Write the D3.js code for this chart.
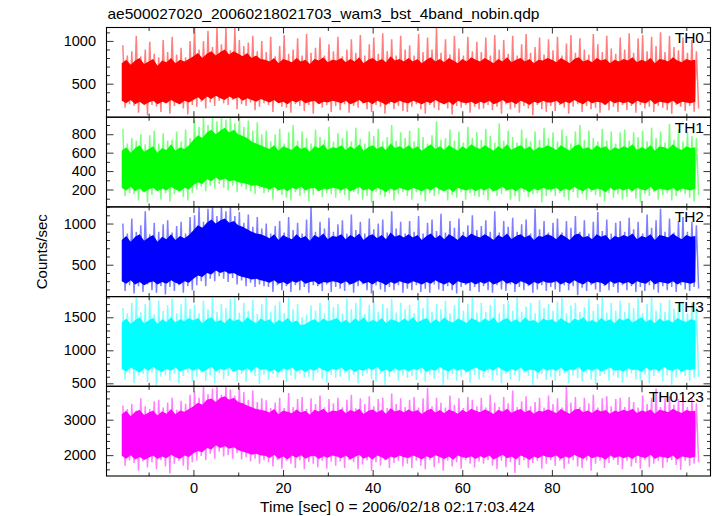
<!DOCTYPE html>
<html><head><meta charset="utf-8">
<script src="https://cdn.jsdelivr.net/npm/d3@7"></script>
<style>
body{margin:0;background:#fff}
svg{display:block}
text{font-family:"Liberation Sans",Arial,Helvetica,sans-serif;fill:#000}
</style>
</head><body>
<svg id="c" width="717" height="516"></svg>
<script>
// ---------------- data ----------------
const titleText = "ae500027020_20060218021703_wam3_bst_4band_nobin.qdp";
const xTitle = "Time [sec] 0 = 2006/02/18 02:17:03.424";
const yTitle = "Counts/sec";
const bandNames = ["TH0","TH1","TH2","TH3","TH0123"];
const bandColors = ["#ff0000","#00ff00","#0000ff","#00ffff","#ff00ff"];
const xDomain = [-19.4, 115.4];
const yDomains = [[108,1157],[11,985],[113,1202],[455,1813],[1412,3941]];
const yMajorTicks = [[500,1000],[200,400,600,800],[500,1000],[500,1000,1500],[2000,3000]];
const yMinorStep = [100,100,100,100,200];
const xMajorTicks = [0,20,40,60,80,100];
const xMinorTicks = [-10,10,30,50,70,90,110];

// one value per 1-s bin, first bin at t = -16 s
const binStart = -16;

// ---- TH0 ----
const th0CoreHi = [740,780,720,770,800,730,760,790,710,770,750,800,740,780,760,790,
 820,860,800,850,880,830,870,900,840,880,850,820,860,800,830,790,
 780,760,800,740,790,770,750,800,760,780,730,790,770,810,750,780,
 770,800,750,790,760,810,740,780,800,760,790,750,820,770,790,760,
 800,760,790,740,780,810,760,790,750,800,770,740,790,760,810,780,
 760,800,770,740,790,760,810,750,780,800,760,790,740,780,770,800,
 780,750,800,770,740,790,810,760,780,750,800,770,790,740,780,760,
 790,770,810,750,780,760,800,740,790,780,760,810,770,750,790,770,780];
const th0CoreLo = [300,270,310,260,290,250,280,300,260,290,270,310,280,260,300,280,
 310,340,300,350,320,360,330,310,350,320,340,300,330,310,290,320,
 300,280,310,270,290,260,300,280,310,270,290,300,260,290,280,300,
 290,270,300,260,280,310,270,290,260,300,280,250,290,270,300,280,
 270,300,280,260,290,270,310,280,260,290,250,300,280,270,290,260,
 290,270,300,260,280,310,270,290,260,300,280,250,290,270,300,280,
 280,300,260,290,270,310,280,260,300,270,290,280,250,300,270,290,
 270,290,260,300,280,270,310,260,290,280,270,300,260,290,280,270,290];
const th0Hi = [950,830,880,1060,820,900,990,850,810,1010,870,1050,840,920,810,1000,
 1150,900,1000,1120,930,1150,960,1150,890,1150,1010,940,980,1060,880,1000,
 870,1050,820,940,1070,850,900,1030,830,1080,860,920,1040,830,960,880,
 1050,820,900,1020,860,1070,830,960,1040,850,1090,880,1020,830,1060,900,
 950,830,1080,870,1040,900,1150,860,1020,840,1060,910,830,1050,880,990,
 870,1040,830,1070,900,1010,850,1060,830,960,1080,860,930,1040,840,1020,
 890,1050,830,970,1070,860,1030,900,840,1080,960,870,1060,910,850,1040,
 900,1090,860,1030,1070,880,1050,940,1100,870,1060,930,890,1040,860,1010,880];
const th0Lo = [220,260,240,160,280,130,250,230,170,270,150,240,260,210,140,250,
 230,290,210,280,240,300,270,250,310,200,260,240,280,190,230,270,
 250,170,280,230,220,160,260,240,180,250,150,270,220,250,170,240,
 190,260,160,240,220,270,200,170,250,230,150,260,200,240,180,170,
 230,260,200,150,250,220,190,260,210,140,240,220,250,160,230,200,
 210,250,190,230,150,260,200,220,160,240,210,130,250,200,170,240,
 180,250,220,150,230,260,170,240,200,220,160,250,190,230,170,250,
 190,240,160,250,210,230,170,240,220,190,150,250,230,180,240,170,210];

// ---- TH1 ----
const th1CoreHi = [620,660,600,650,680,610,640,670,600,650,630,690,620,660,640,680,
 740,790,760,820,850,800,840,870,820,850,800,780,760,720,700,680,
 660,640,680,620,670,650,630,680,640,660,610,670,650,690,630,660,
 650,680,630,670,640,690,620,660,680,640,670,630,700,650,670,640,
 680,640,670,620,660,690,640,670,630,680,650,620,670,640,690,660,
 640,680,650,620,670,640,690,630,660,680,640,670,620,660,650,680,
 660,630,680,650,620,670,690,640,660,630,680,650,670,620,660,640,
 670,650,690,630,660,640,680,620,670,660,640,690,650,630,670,650,660];
const th1CoreLo = [220,190,230,180,210,170,200,220,180,210,190,230,200,180,220,200,
 250,280,260,310,290,330,300,320,290,300,280,270,260,240,250,230,
 220,200,230,190,210,180,220,200,230,190,210,220,180,210,200,220,
 210,190,220,180,200,230,190,210,180,220,200,170,210,190,220,200,
 190,220,200,180,210,190,230,200,180,210,170,220,200,190,210,180,
 210,190,220,180,200,230,190,210,180,220,200,170,210,190,220,200,
 200,220,180,210,190,230,200,180,220,190,210,200,170,220,190,210,
 190,210,180,220,200,190,230,180,210,200,190,220,180,210,200,190,210];
const th1Hi = [860,700,760,730,800,690,790,840,700,810,730,740,830,720,850,760,
 960,880,985,900,985,940,985,960,985,920,985,880,950,840,930,800,
 840,720,800,860,700,820,900,730,830,760,700,850,770,740,880,720,
 810,760,840,720,870,750,700,830,780,860,720,770,900,730,820,760,
 840,720,870,770,700,790,940,740,760,850,730,830,710,880,760,820,
 740,860,780,710,920,730,840,770,710,850,760,720,830,740,870,760,
 820,720,850,780,700,830,900,740,840,760,720,860,730,830,700,820,
 850,730,820,770,840,720,870,760,830,710,910,740,850,720,820,780,760];
const th1Lo = [130,160,150,80,170,60,140,190,90,160,70,150,170,120,80,160,
 200,230,180,240,210,260,220,190,240,170,230,200,180,150,210,160,
 170,90,180,140,110,80,170,130,160,70,140,180,120,160,150,110,
 160,140,80,170,150,90,130,60,170,140,120,160,80,150,170,130,
 90,170,140,70,160,130,150,180,80,140,110,170,90,160,130,120,
 140,80,170,130,150,180,90,130,70,170,120,150,160,60,130,170,
 130,160,120,80,170,110,150,90,170,140,120,70,160,110,150,90,
 120,170,100,60,150,130,170,90,140,160,80,130,170,150,110,70,140];

// ---- TH2 ----
const th2CoreHi = [800,850,780,840,870,790,830,860,780,840,810,870,800,850,820,860,
 920,980,950,1010,1050,1000,1040,1060,1010,1030,980,960,930,900,880,870,
 850,820,870,800,860,830,810,870,820,850,790,860,830,880,810,850,
 840,870,810,860,830,880,800,850,870,820,860,810,890,840,860,830,
 870,830,860,800,850,880,820,860,810,870,840,800,860,830,880,850,
 830,870,840,800,860,830,880,810,850,870,830,860,800,850,840,870,
 850,810,870,840,800,860,880,830,850,810,870,840,860,800,850,830,
 860,840,880,810,850,830,870,800,860,850,830,880,840,810,860,840,850];
const th2CoreLo = [300,270,310,260,290,250,280,300,260,290,270,310,280,260,300,280,
 330,370,350,400,380,430,400,420,390,400,370,350,340,320,330,310,
 300,280,310,270,290,260,300,280,310,270,290,300,260,290,280,300,
 290,270,300,260,280,310,270,290,260,300,280,250,290,270,300,280,
 270,300,280,260,290,270,310,280,260,290,250,300,280,270,290,260,
 290,270,300,260,280,310,270,290,260,300,280,250,290,270,300,280,
 280,300,260,290,270,310,280,260,300,270,290,280,250,300,270,290,
 270,290,260,300,280,270,310,260,290,280,270,300,260,290,280,270,290];
const th2Hi = [1000,880,1060,900,980,1150,870,1010,900,990,1040,890,970,1020,880,1080,
 1100,1202,1020,1180,1202,1090,1202,1150,1202,1090,1140,1010,1110,960,1080,940,
 1000,880,970,1030,890,1080,920,1010,880,1050,1202,900,1020,940,1070,900,
 990,1040,880,1110,920,1020,880,1060,930,1000,1050,890,1150,940,1020,880,
 1030,900,1090,880,1010,1050,910,1120,890,1030,950,1060,900,980,1100,920,
 970,1040,900,1150,890,1030,960,1070,900,990,1050,880,1180,930,1030,890,
 1010,1060,890,1030,950,1090,900,1040,880,1020,1140,910,1050,880,1010,1030,
 900,1070,930,1020,880,1110,950,1040,1180,900,1060,890,1030,1080,900,1020,980];
const th2Lo = [180,250,150,240,170,260,190,160,240,140,230,180,250,160,240,190,
 250,300,240,330,300,360,330,290,340,260,310,240,280,230,260,240,
 230,170,250,190,240,170,250,190,230,160,250,240,180,260,170,230,
 210,180,250,160,240,260,190,150,250,200,170,230,190,250,160,210,
 190,250,170,210,160,260,200,180,240,190,150,230,250,180,230,170,
 240,190,160,250,200,180,260,170,230,190,240,160,200,250,180,230,
 200,170,250,190,240,130,220,180,250,200,170,240,190,230,160,250,
 190,240,170,230,180,250,200,160,240,190,230,170,250,200,180,230,210];

// ---- TH3 ----
const th3CoreHi = [1420,1480,1400,1460,1500,1410,1450,1490,1400,1470,1430,1500,1420,1470,1440,1490,
 1450,1490,1410,1470,1500,1430,1460,1410,1490,1440,1470,1420,1500,1450,1410,1480,
 1440,1470,1400,1460,1430,1490,1420,1450,1380,1400,1440,1470,1420,1480,1440,1460,
 1490,1420,1460,1410,1480,1440,1500,1420,1460,1430,1490,1410,1470,1450,1420,1480,
 1440,1500,1420,1460,1490,1410,1470,1430,1500,1440,1420,1480,1450,1410,1490,1460,
 1420,1480,1440,1500,1410,1460,1490,1430,1470,1420,1500,1440,1460,1410,1480,1450,
 1470,1420,1490,1440,1410,1480,1450,1500,1430,1460,1420,1490,1440,1470,1410,1480,
 1450,1490,1420,1460,1500,1430,1470,1410,1480,1440,1460,1420,1490,1450,1430,1470,1450];
const th3CoreLo = [720,680,740,700,660,730,690,750,700,670,720,690,740,680,710,730,
 690,730,670,710,750,680,720,700,740,670,710,690,730,680,750,700,
 720,680,710,660,730,700,740,680,710,670,720,690,740,700,680,720,
 700,740,680,720,670,710,690,730,700,750,680,710,670,730,690,720,
 680,720,700,740,670,710,690,750,700,680,730,690,720,670,710,740,
 700,680,730,690,750,700,670,720,690,740,680,710,700,660,730,690,
 720,690,740,680,710,700,750,670,720,690,730,680,710,740,690,700,
 680,730,700,710,670,740,690,720,680,750,700,690,730,670,710,700,720];
const th3Hi = [1640,1560,1720,1813,1580,1700,1813,1540,1750,1600,1680,1780,1560,1700,1813,1630,
 1690,1560,1750,1620,1813,1580,1700,1640,1780,1813,1570,1720,1600,1760,1550,1700,
 1813,1580,1680,1740,1560,1813,1620,1700,1500,1540,1680,1600,1720,1560,1760,1650,
 1700,1560,1780,1620,1720,1813,1550,1690,1750,1580,1700,1640,1780,1570,1720,1620,
 1690,1560,1760,1640,1813,1580,1700,1620,1750,1560,1680,1790,1600,1700,1813,1570,
 1720,1580,1690,1780,1560,1700,1750,1600,1813,1580,1660,1720,1560,1760,1640,1700,
 1600,1740,1813,1560,1680,1720,1580,1650,1780,1600,1700,1813,1570,1720,1600,1750,
 1580,1720,1640,1790,1560,1700,1813,1600,1720,1580,1760,1630,1700,1740,1560,1720,1650];
const th3Lo = [560,650,500,620,640,520,660,470,600,630,540,650,500,610,660,530,
 600,660,540,620,500,650,560,610,670,530,640,520,660,610,490,630,
 550,640,580,660,520,620,560,650,590,600,540,660,570,510,630,580,
 600,660,540,630,500,610,650,560,530,640,480,600,660,540,620,580,
 610,550,650,520,630,570,660,480,560,640,540,600,650,510,630,560,
 590,660,540,620,500,640,560,630,530,660,610,480,570,640,550,600,
 540,610,650,500,620,580,530,660,560,490,610,640,540,620,580,510,
 600,650,560,540,630,500,610,660,530,620,480,590,650,610,540,580,600];

// ---- TH0123 ----
const th0123CoreHi = [3150,3250,3100,3220,3280,3130,3200,3260,3120,3240,3170,3300,3150,3260,3220,3300,
 3380,3480,3420,3560,3600,3500,3620,3660,3560,3620,3500,3460,3400,3350,3300,3280,
 3250,3200,3300,3150,3260,3220,3180,3290,3200,3250,3140,3280,3230,3310,3190,3260,
 3240,3300,3180,3270,3220,3310,3160,3250,3290,3200,3280,3170,3320,3230,3270,3210,
 3290,3220,3270,3160,3250,3310,3200,3270,3180,3290,3240,3170,3280,3210,3310,3250,
 3210,3290,3240,3160,3280,3220,3310,3190,3260,3300,3210,3270,3170,3250,3230,3290,
 3250,3180,3300,3230,3170,3280,3310,3210,3260,3190,3290,3230,3270,3170,3250,3220,
 3280,3240,3310,3190,3260,3220,3290,3170,3280,3250,3210,3310,3240,3190,3270,3240,3250];
const th0123CoreLo = [1980,1900,2000,1880,1950,1860,1930,1990,1890,1960,1910,2010,1940,1890,1990,1950,
 2050,2120,2080,2200,2160,2280,2200,2260,2180,2220,2140,2100,2060,2010,2040,1990,
 1980,1920,2010,1890,1960,1880,1990,1930,2000,1900,1960,1980,1890,1970,1930,1990,
 1960,1910,1990,1880,1950,2010,1900,1960,1880,1990,1940,1860,1960,1920,1990,1940,
 1920,1990,1940,1880,1970,1910,2000,1950,1890,1960,1870,1990,1940,1920,1970,1890,
 1970,1920,1990,1880,1940,2010,1910,1960,1880,1990,1940,1860,1960,1910,1990,1950,
 1940,1990,1890,1960,1920,2010,1950,1890,1990,1910,1960,1940,1870,1990,1920,1970,
 1910,1960,1890,1990,1940,1920,2010,1890,1960,1940,1910,1990,1880,1960,1940,1920,1960];
const th0123Hi = [3400,3300,3450,3260,3600,3380,3300,3520,3560,3340,3480,3620,3280,3530,3450,3700,
 3800,3620,3941,3720,3880,3941,3700,3941,3850,3680,3941,3780,3560,3820,3500,3600,
 3550,3330,3480,3620,3330,3750,3360,3580,3640,3300,3600,3440,3680,3350,3580,3460,
 3620,3350,3560,3700,3320,3600,3440,3660,3380,3580,3620,3330,3740,3440,3600,3360,
 3560,3640,3340,3600,3900,3380,3620,3480,3340,3680,3420,3600,3330,3640,3560,3380,
 3620,3340,3700,3480,3360,3640,3460,3820,3360,3520,3660,3380,3500,3620,3340,3680,
 3440,3600,3340,3940,3480,3640,3360,3620,3460,3700,3340,3600,3660,3380,3580,3620,
 3360,3640,3500,3340,3680,3440,3620,3880,3360,3600,3660,3420,3580,3640,3360,3600,3460];
const th0123Lo = [1700,1850,1780,1560,1820,1650,1800,1600,1860,1680,1480,1760,1840,1700,1580,1800,
 1850,1980,1860,2040,1900,2100,1960,2000,1900,2060,1880,1940,1820,1900,1760,1860,
 1800,1680,1860,1620,1840,1760,1640,1850,1600,1800,1760,1660,1840,1620,1820,1700,
 1820,1640,1860,1800,1600,1740,1850,1560,1800,1700,1860,1640,1780,1840,1680,1760,
 1640,1840,1700,1600,1860,1660,1780,1560,1840,1680,1800,1620,1860,1760,1650,1820,
 1760,1860,1700,1600,1840,1660,1800,1500,1720,1860,1640,1780,1840,1620,1760,1860,
 1700,1840,1620,1760,1860,1680,1640,1840,1560,1760,1840,1640,1780,1860,1720,1600,
 1840,1680,1780,1620,1860,1660,1760,1840,1640,1800,1860,1720,1580,1840,1700,1760,1800];

const coreHiSeries = [th0CoreHi, th1CoreHi, th2CoreHi, th3CoreHi, th0123CoreHi];
const coreLoSeries = [th0CoreLo, th1CoreLo, th2CoreLo, th3CoreLo, th0123CoreLo];
const hiSeries = [th0Hi, th1Hi, th2Hi, th3Hi, th0123Hi];
const loSeries = [th0Lo, th1Lo, th2Lo, th3Lo, th0123Lo];

// ---------------- drawing ----------------
const svg = d3.select("#c");
const left = 106.5, right = 710.5, top0 = 27.5, ph = 89.7;
const x = d3.scaleLinear().domain(xDomain).range([left, right]);
const tickColor = "#333";

function fitText(sel, target){
  const w = sel.node().getComputedTextLength();
  if (w > 0) sel.attr("textLength", target).attr("lengthAdjust","spacingAndGlyphs");
}

bandNames.forEach((name, i) => {
  const y0 = top0 + i*ph, y1 = y0 + ph;
  const y = d3.scaleLinear().domain(yDomains[i]).range([y1, y0]);
  const g = svg.append("g");
  const clipId = "clip"+i;
  svg.append("clipPath").attr("id", clipId).append("rect")
     .attr("x", left).attr("y", y0).attr("width", right-left).attr("height", ph);
  const dg = g.append("g").attr("clip-path", `url(#${clipId})`);

  // per-bin extremes, drawn as a connected line
  const pts = [];
  hiSeries[i].forEach((v,k)=>{
    const t = binStart + k;
    pts.push([t+0.25, v]);
    pts.push([t+0.75, loSeries[i][k]]);
  });
  dg.append("path").datum(pts)
    .attr("d", d3.line().x(d=>x(d[0])).y(d=>y(d[1])))
    .attr("fill","none").attr("stroke", bandColors[i]).attr("stroke-width",1.5)
    .attr("stroke-opacity",0.5);

  // dense core of the light curve
  const core = coreHiSeries[i].map((v,k)=>({t: binStart + k, hi: v, lo: coreLoSeries[i][k]}));
  dg.append("path").datum(core)
    .attr("d", d3.area().x(d=>x(d.t)).y0(d=>y(d.lo)).y1(d=>y(d.hi)))
    .attr("fill", bandColors[i]);

  // y ticks (inside, both sides)
  const ymin = yDomains[i][0], ymax = yDomains[i][1];
  const minor = d3.range(Math.ceil(ymin/yMinorStep[i])*yMinorStep[i], ymax, yMinorStep[i])
                  .filter(v => !yMajorTicks[i].includes(v));
  const yl = g.append("g").attr("transform",`translate(${left},0)`)
    .call(d3.axisLeft(y).tickValues(yMajorTicks[i]).tickSize(-7).tickPadding(10.5).tickFormat(d3.format("d")));
  const ylm = g.append("g").attr("transform",`translate(${left},0)`)
    .call(d3.axisLeft(y).tickValues(minor).tickSize(-3.5).tickFormat(""));
  const yr = g.append("g").attr("transform",`translate(${right},0)`)
    .call(d3.axisRight(y).tickValues(yMajorTicks[i]).tickSize(-7).tickFormat(""));
  const yrm = g.append("g").attr("transform",`translate(${right},0)`)
    .call(d3.axisRight(y).tickValues(minor).tickSize(-3.5).tickFormat(""));

  // x ticks top and bottom (inside)
  const xt = g.append("g").attr("transform",`translate(0,${y0})`)
    .call(d3.axisTop(x).tickValues(xMajorTicks).tickSize(-6).tickFormat(""));
  const xtm = g.append("g").attr("transform",`translate(0,${y0})`)
    .call(d3.axisTop(x).tickValues(xMinorTicks).tickSize(-3.5).tickFormat(""));
  const isLast = i === bandNames.length-1;
  const xb = g.append("g").attr("transform",`translate(0,${y1})`)
    .call(d3.axisBottom(x).tickValues(xMajorTicks).tickSize(-6).tickPadding(6.5)
      .tickFormat(isLast ? d3.format("d") : ""));
  const xbm = g.append("g").attr("transform",`translate(0,${y1})`)
    .call(d3.axisBottom(x).tickValues(xMinorTicks).tickSize(-3.5).tickFormat(""));

  [yl,ylm,yr,yrm,xt,xtm,xb,xbm].forEach(a=>{
    a.select(".domain").remove();
    a.selectAll(".tick line").attr("stroke", tickColor).attr("stroke-width",1);
    a.selectAll(".tick text").attr("font-size","14.5px").attr("fill","#000")
      .attr("font-family",'"Liberation Sans",Arial,Helvetica,sans-serif');
  });

  g.append("rect").attr("x",left).attr("y",y0).attr("width",right-left).attr("height",ph)
   .attr("fill","none").attr("stroke","#000").attr("stroke-width",1.1);

  g.append("text").attr("x", 704).attr("y", y0 + 15.5).attr("text-anchor","end")
   .attr("font-size","15.5px").text(name);
});

const tt = svg.append("text").attr("x",107.5).attr("y",18.5).attr("font-size","15px").text(titleText);
fitText(tt, 432);
const xtl = svg.append("text").attr("x",260).attr("y",511.5).attr("font-size","15px").text(xTitle);
fitText(xtl, 275);
svg.append("text").attr("transform",`translate(47,${top0+2.5*ph}) rotate(-90)`)
  .attr("text-anchor","middle").attr("font-size","15px").text(yTitle);
</script>
</body></html>
